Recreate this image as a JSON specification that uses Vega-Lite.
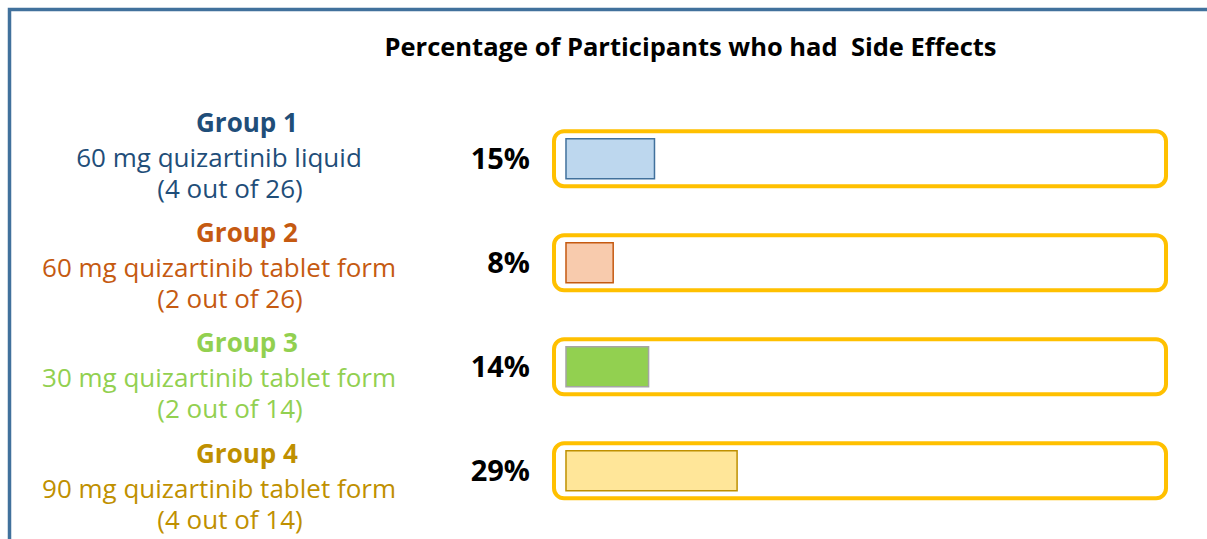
{
  "$schema": "https://vega.github.io/schema/vega-lite/v6.json",
  "autosize": {"type": "none"},
  "padding": {"left": 9.5, "top": 9.5, "right": 0, "bottom": 0},
  "width": 1200,
  "height": 532,
  "background": "white",
  "config": {
    "view": {"stroke": "#41719c", "strokeWidth": 3.5},
    "font": "Open Sans"
  },
  "title": {
    "text": "Percentage of Participants who had\u00a0 Side Effects",
    "anchor": "middle",
    "frame": "group",
    "dx": 81,
    "offset": -72,
    "baseline": "alphabetic",
    "font": "Open Sans",
    "fontSize": 25.5,
    "fontWeight": "bold",
    "color": "#000000"
  },
  "data": {
    "values": [
      {"group": "Group 1", "dose": "60 mg quizartinib liquid", "count": "(4 out of 26)", "pct": 15, "label": "15%"},
      {"group": "Group 2", "dose": "60 mg quizartinib tablet form", "count": "(2 out of 26)", "pct": 8, "label": "8%"},
      {"group": "Group 3", "dose": "30 mg quizartinib tablet form", "count": "(2 out of 14)", "pct": 14, "label": "14%"},
      {"group": "Group 4", "dose": "90 mg quizartinib tablet form", "count": "(4 out of 14)", "pct": 29, "label": "29%"}
    ]
  },
  "resolve": {"scale": {"y": "independent"}},
  "layer": [
    {
      "encoding": {
        "y": {"field": "group", "type": "nominal", "axis": null,
              "scale": {"type": "point", "padding": 0.9116, "align": 0.7817}},
        "color": {"field": "group", "type": "nominal", "legend": null,
                  "scale": {"domain": ["Group 1", "Group 2", "Group 3", "Group 4"],
                            "range": ["#1f4e79", "#c55a11", "#92d050", "#bf9000"]}}
      },
      "layer": [
        {
          "mark": {"type": "text", "font": "Open Sans", "fontSize": 26, "fontWeight": "bold", "align": "center", "baseline": "alphabetic", "dy": -35},
          "encoding": {"x": {"datum": -54.07, "type": "quantitative", "scale": {"domain": [-94.32, 109.07], "nice": false, "zero": false}, "axis": null}, "text": {"field": "group"}}
        },
        {
          "mark": {"type": "text", "font": "Open Sans", "fontSize": 26, "align": "center", "baseline": "alphabetic", "dy": 0},
          "encoding": {"x": {"datum": -58.81, "type": "quantitative", "scale": {"domain": [-94.32, 109.07], "nice": false, "zero": false}, "axis": null}, "text": {"field": "dose"}}
        },
        {
          "mark": {"type": "text", "font": "Open Sans", "fontSize": 26, "align": "center", "baseline": "alphabetic", "dy": 31},
          "encoding": {"x": {"datum": -56.95, "type": "quantitative", "scale": {"domain": [-94.32, 109.07], "nice": false, "zero": false}, "axis": null}, "text": {"field": "count"}}
        }
      ]
    },
    {
      "encoding": {
        "y": {"field": "group", "type": "nominal", "axis": null,
              "scale": {"type": "band", "paddingInner": 0, "paddingOuter": 0.557, "align": 0.8387}}
      },
      "layer": [
        {
          "mark": {"type": "bar", "height": 55, "fill": "white", "stroke": "#ffc000", "strokeWidth": 4, "cornerRadius": 10},
          "encoding": {
            "x": {"datum": -2.03, "type": "quantitative", "stack": null, "scale": {"domain": [-94.32, 109.07], "nice": false, "zero": false}, "axis": null},
            "x2": {"datum": 101.7}
          }
        },
        {
          "mark": {"type": "bar", "height": 40, "strokeWidth": 1.5},
          "encoding": {
            "x": {"field": "pct", "type": "quantitative", "stack": null, "scale": {"domain": [-94.32, 109.07], "nice": false, "zero": false}, "axis": null},
            "fill": {"field": "group", "type": "nominal", "legend": null,
                     "scale": {"domain": ["Group 1", "Group 2", "Group 3", "Group 4"],
                               "range": ["#bdd7ee", "#f8cbad", "#92d050", "#ffe699"]}},
            "stroke": {"field": "group", "type": "nominal", "legend": null,
                       "scale": {"domain": ["Group 1", "Group 2", "Group 3", "Group 4"],
                                 "range": ["#41719c", "#c55a11", "#a5a5a5", "#bf9000"]}}
          }
        },
        {
          "mark": {"type": "text", "font": "Open Sans", "fontSize": 29, "fontWeight": "bold", "align": "right", "baseline": "middle", "dx": -36, "dy": 1, "color": "#000000"},
          "encoding": {
            "x": {"datum": 0, "type": "quantitative", "scale": {"domain": [-94.32, 109.07], "nice": false, "zero": false}, "axis": null},
            "text": {"field": "label"}
          }
        }
      ]
    }
  ]
}
